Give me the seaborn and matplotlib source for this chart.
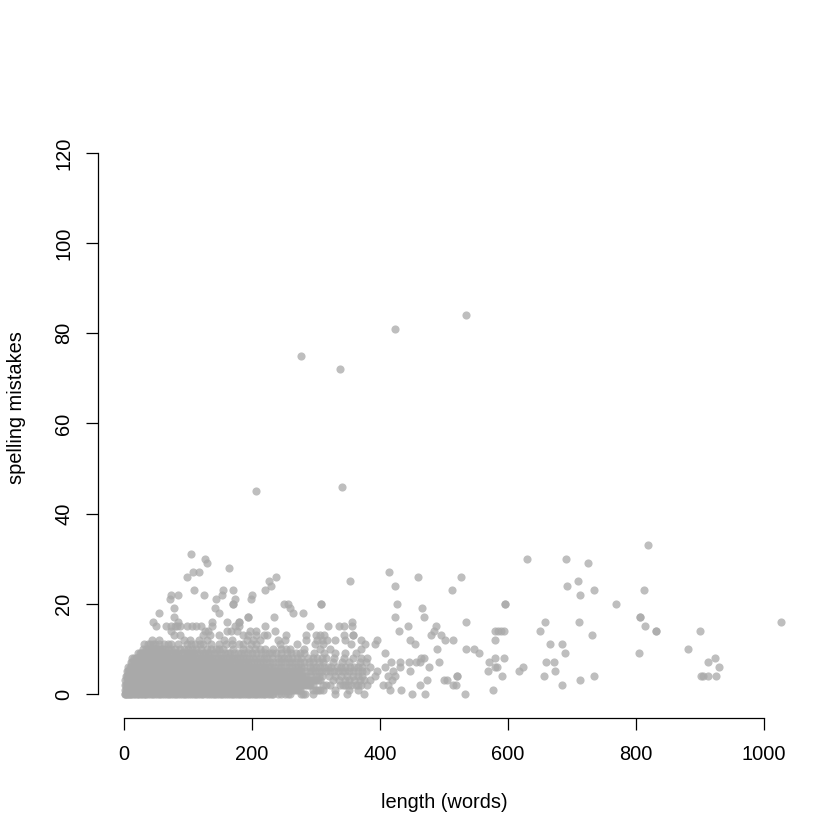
import matplotlib
matplotlib.use("Agg")
import matplotlib.pyplot as plt
import pandas as pd
import seaborn as sns

# Word counts of the posts at each spelling-mistake count
len_at_0 = [1,3,6,9,13,17,22,26,31,35,41,46,52,57,63,68,74,79,85,91,96,102,108,113,119,124,131,137,142,148,153,159,165,170,176,181,188,193,199,204,210,216,221,228,233,246,252,259,276,283,296,330,348,375,450,471,533]
len_at_1 = [1,4,7,11,15,19,24,29,34,39,44,50,55,60,66,71,77,83,88,94,99,105,111,116,122,127,134,139,145,150,156,162,167,173,179,185,190,196,202,207,213,219,224,230,236,241,247,253,258,264,270,275,296,303,311,330,352,366,415,433,576]
len_at_2 = [2,5,8,12,16,21,25,30,36,41,47,53,58,64,69,75,81,86,92,97,103,109,115,120,126,132,137,143,149,154,160,166,171,177,183,188,194,200,206,211,217,223,228,234,240,245,251,257,263,268,274,280,286,291,296,311,322,338,346,355,362,370,379,404,413,462,514,519,684]
len_at_3 = [2,6,10,14,18,23,28,33,38,43,49,54,60,65,71,76,82,88,93,99,104,110,116,121,127,133,138,144,150,156,161,167,172,178,184,190,195,201,207,212,218,224,229,235,241,246,252,258,264,270,276,282,288,294,300,306,327,345,360,375,385,418,473,500,504,712]
len_at_4 = [3,7,11,15,20,25,30,35,40,46,51,56,62,67,73,78,84,90,95,101,107,112,118,123,129,135,140,146,152,158,163,169,174,180,186,192,197,203,209,214,220,226,232,238,243,249,255,261,266,272,278,285,300,310,330,348,358,372,392,413,423,521,521,590,657,735,902,904,913,925]
len_at_5 = [4,8,12,17,22,27,32,37,42,48,53,59,64,70,75,81,87,92,98,103,109,115,120,126,132,137,143,148,154,160,165,171,177,183,188,194,200,206,212,217,223,229,235,241,247,254,262,270,277,290,298,305,316,328,340,352,365,378,395,420,447,568,617,673]
len_at_6 = [7,11,15,20,25,30,36,41,47,52,58,63,69,75,80,86,91,97,103,108,114,120,125,131,137,142,148,154,159,165,171,177,182,188,194,200,207,214,221,230,240,252,263,272,282,290,300,312,324,333,345,360,372,384,408,431,477,580,583,624,929]
len_at_7 = [11,15,19,24,29,34,39,45,50,56,61,67,73,78,84,90,95,101,107,113,118,124,130,136,142,148,155,162,170,178,186,194,203,212,222,233,246,258,268,282,296,311,326,340,352,368,378,417,432,445,456,462,492,570,660,672,913]
len_at_8 = [13,18,22,27,33,38,44,50,56,62,68,75,81,88,95,102,108,116,124,131,138,147,155,164,172,181,190,201,212,223,240,250,262,277,288,302,316,328,344,358,371,380,464,468,580,594,923]
len_at_9 = [22,27,32,38,44,50,57,64,70,79,85,94,101,110,118,127,135,146,158,166,178,188,200,214,226,238,254,268,282,297,312,330,345,362,408,555,689,805]
len_at_10 = [30,38,45,50,56,62,74,87,100,113,129,143,155,186,205,220,246,260,281,307,322,370,489,535,547,882]
len_at_11 = [32,41,48,62,73,98,111,124,149,168,179,186,207,244,270,298,311,354,376,392,455,666,685]
len_at_12 = [43,54,93,103,117,129,156,169,192,202,212,241,252,285,301,309,317,329,345,370,395,447,502,514,579]
len_at_13 = [78,88,124,134,148,186,194,207,218,223,253,284,300,306,312,343,358,358,480,495,731]
len_at_14 = [74,127,132,161,167,177,197,206,236,429,484,580,585,589,594,650,831,831,900]
len_at_15 = [50,66,74,80,83,88,99,107,112,120,138,173,179,221,290,319,336,344,357,444,487,814]
len_at_16 = [46,85,137,161,179,179,357,534,658,711,1027]
len_at_17 = [78,194,194,234,424,469,807,807]
len_at_18 = [55,149,264,279]
len_at_19 = [78,142,259,465]
len_at_20 = [170,170,250,257,308,308,427,595,595,769]
len_at_21 = [72,143,174,199]
len_at_22 = [74,85,125,153,200,713]
len_at_23 = [110,154,171,220,512,735,812]
len_at_24 = [230,423,692]
len_at_25 = [227,353,710]
len_at_26 = [98,237,460,527]
len_at_27 = [108,117,414]
len_at_28 = [164]
len_at_29 = [130,725]
len_at_30 = [127,629,690]
len_at_31 = [104]
len_at_33 = [819]
len_at_45 = [206]
len_at_46 = [340]
len_at_72 = [338]
len_at_75 = [276]
len_at_81 = [423]
len_at_84 = [534]

# Further posts packed inside the solid part of the cloud
more_at_0 = [2,4,8,11,15,20,24,28,33,38,44,49,55,60,66,71,77,82,88,94,99,105,111,116,122,128,134,140,145,151,156,162,168,173,179,185,191,196,202,207,213,219,225,231,240,256,279]
more_at_1 = [3,6,9,13,17,22,27,32,37,42,47,53,58,63,69,74,80,86,91,97,102,108,114,119,125,131,137,142,148,153,159,165,170,176,182,188,193,199,205,210,216,222,227,233,239,244,250,256,261,267,273,300,307]
more_at_2 = [3,7,10,14,19,23,28,33,39,44,50,56,61,67,72,78,84,89,95,100,106,112,118,123,129,135,140,146,152,157,163,169,174,180,186,191,197,203,209,214,220,226,231,237,243,248,254,260,266,271,277,283,289,316,342,350,366]
more_at_3 = [4,8,12,16,21,26,31,36,41,46,52,57,63,68,74,79,85,91,96,102,107,113,119,124,130,136,141,147,153,159,164,170,175,181,187,193,198,204,210,215,221,227,232,238,244,249,255,261,267,273,279,285,291,297,303,336,352,368]
more_at_4 = [5,9,13,18,23,28,33,38,43,49,54,59,65,70,76,81,87,93,98,104,110,115,121,126,132,138,143,149,155,161,166,172,177,183,189,195,200,206,212,217,223,229,235,241,246,252,258,264,269,275,281,292,305,320,339,365]
more_at_5 = [6,10,15,20,25,30,35,40,45,51,56,62,67,73,78,84,90,95,101,106,112,118,123,129,135,140,146,151,157,163,168,174,180,186,191,197,203,209,215,220,226,232,238,244,250,258,266,274,283,294,310,322,334,346,358,372]
more_at_6 = [9,13,18,23,28,33,39,44,50,55,61,66,72,78,83,89,94,100,106,111,117,123,128,134,140,145,151,157,162,168,174,180,185,191,197,204,211,218,226,235,246,258,268,277,295,306,318,339,353,366]
more_at_7 = [13,17,22,27,32,37,42,48,53,59,64,70,76,81,87,93,98,104,110,116,121,127,133,139,145,152,159,166,174,182,190,199,208,217,228,240,252,263,275,289,304]
more_at_8 = [16,20,25,30,36,41,47,53,59,65,72,78,85,92,99,105,112,120,128,135,143,151,160,168,177,186,196,207,218,232,245,256,270,295,309]
more_at_9 = [25,30,35,41,47,54,61,67,75,82,90,98,106,114,123,131,141,152,162,172,183,194,207,220,232,246,261,275]
more_at_10 = [34,42,48,53,59,68,80,94,107,121,136,149,170,196,213,233,253]
more_at_11 = [37,45,55,68,85,105,118,136,160,198]

x_ticks = [0, 200, 400, 600, 800, 1000]
y_ticks = [0, 20, 40, 60, 80, 100, 120]

levels = {
    0: len_at_0 + more_at_0, 1: len_at_1 + more_at_1, 2: len_at_2 + more_at_2,
    3: len_at_3 + more_at_3, 4: len_at_4 + more_at_4, 5: len_at_5 + more_at_5,
    6: len_at_6 + more_at_6, 7: len_at_7 + more_at_7, 8: len_at_8 + more_at_8,
    9: len_at_9 + more_at_9, 10: len_at_10 + more_at_10, 11: len_at_11 + more_at_11,
    12: len_at_12, 13: len_at_13, 14: len_at_14, 15: len_at_15, 16: len_at_16,
    17: len_at_17, 18: len_at_18, 19: len_at_19, 20: len_at_20, 21: len_at_21,
    22: len_at_22, 23: len_at_23, 24: len_at_24, 25: len_at_25, 26: len_at_26,
    27: len_at_27, 28: len_at_28, 29: len_at_29, 30: len_at_30, 31: len_at_31,
    33: len_at_33, 45: len_at_45, 46: len_at_46, 72: len_at_72, 75: len_at_75,
    81: len_at_81, 84: len_at_84,
}
df = pd.DataFrame(
    [(x, y) for y, xs in levels.items() for x in xs],
    columns=["length", "mistakes"],
)

sns.set_theme(style="ticks")
plt.rcParams["font.family"] = ["Liberation Sans", "DejaVu Sans"]
plt.rcParams["text.color"] = "black"
plt.rcParams["axes.labelcolor"] = "black"

fig = plt.figure(figsize=(7, 7), dpi=120)
ax = fig.add_axes([98.4 / 840, 122.4 / 840, 691.2 / 840, 619.2 / 840])
sns.scatterplot(data=df, x="length", y="mistakes", ax=ax, color="#A9A9A9",
                alpha=0.75, s=24, linewidth=0, legend=False)

ax.set_xlim(-40, 1040)
ax.set_ylim(-5.23, 132.1)
ax.set_xticks(x_ticks)
ax.set_yticks(y_ticks)
ax.set_xticklabels([str(t) for t in x_ticks], fontsize=12)
ax.set_yticklabels([str(t) for t in y_ticks], fontsize=12, rotation=90, va="center")
ax.tick_params(axis="both", length=7.2, width=0.75, color="black", labelcolor="black")
ax.tick_params(axis="x", pad=9)
ax.tick_params(axis="y", pad=8)

for side in ("top", "right"):
    ax.spines[side].set_visible(False)
ax.spines["left"].set_linewidth(0.75)
ax.spines["bottom"].set_linewidth(0.75)
ax.spines["left"].set_color("black")
ax.spines["bottom"].set_color("black")
ax.spines["left"].set_bounds(0, 120)
ax.spines["bottom"].set_bounds(0, 1000)

ax.set_xlabel("length (words)", fontsize=12, labelpad=0, color="black")
ax.set_ylabel("spelling mistakes", fontsize=12, labelpad=0, color="black")
ax.xaxis.set_label_coords(444 / 840, 37 / 840, transform=fig.transFigure)
ax.yaxis.set_label_coords(17 / 840, 432 / 840, transform=fig.transFigure)
ax.xaxis.label.set_verticalalignment("center")
ax.yaxis.label.set_verticalalignment("center")

fig.savefig("out.png", dpi=120)
